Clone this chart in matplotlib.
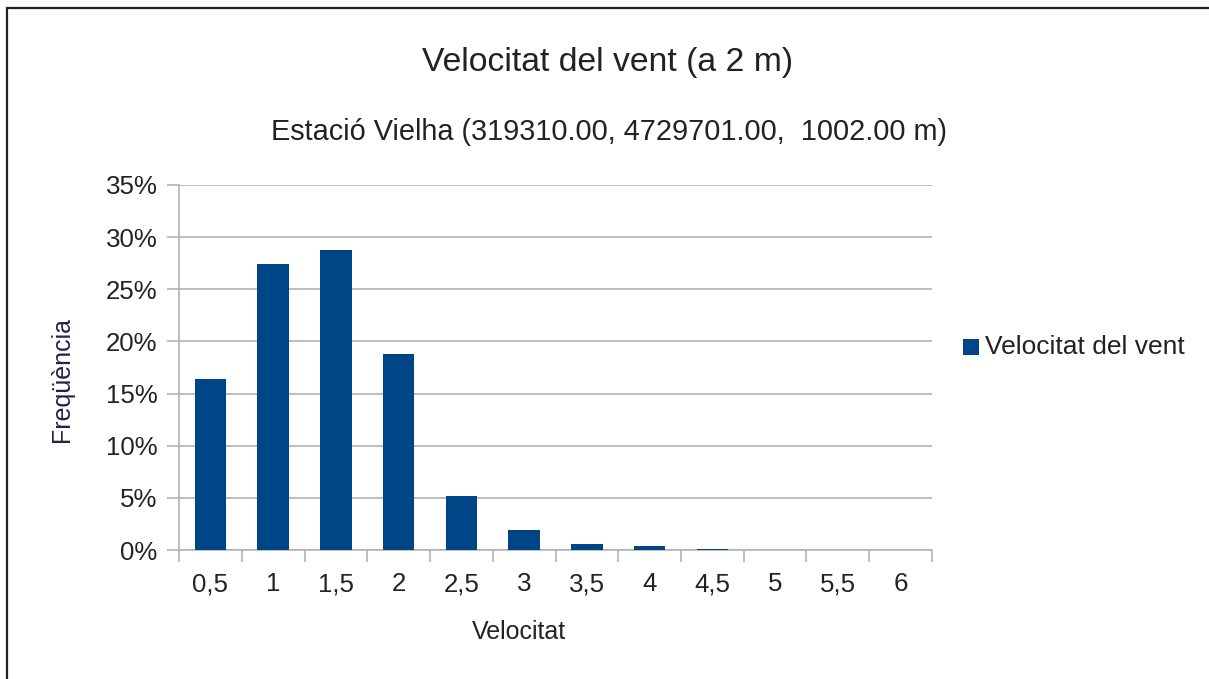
import matplotlib
matplotlib.use("Agg")
import matplotlib.pyplot as plt
from matplotlib.patches import Rectangle
from matplotlib.ticker import FuncFormatter

plt.rcParams['font.family'] = ['Liberation Sans', 'DejaVu Sans']

# data
categories = ['0,5', '1', '1,5', '2', '2,5', '3', '3,5', '4', '4,5', '5', '5,5', '6']
frequency = [16.4, 27.4, 28.8, 18.8, 5.2, 1.9, 0.6, 0.4, 0.12, 0.04, 0.0, 0.0]
y_ticks = [0, 5, 10, 15, 20, 25, 30, 35]

W, H = 1209, 679
fig = plt.figure(figsize=(W / 100, H / 100), dpi=100)
fig.patch.set_facecolor('white')

# outer frame (only left and top visible in the reference)
fig.add_artist(Rectangle((7 / W, -0.2), 1.2, (H - 8) / H + 0.2, transform=fig.transFigure,
                         fill=False, edgecolor='#222222', linewidth=1.6, clip_on=False))

left, right, top, bottom = 179, 932, 185, 550
ax = fig.add_axes([left / W, (H - bottom) / H, (right - left) / W, (bottom - top) / H])

x = list(range(len(categories)))
ax.bar(x, frequency, width=0.5, color='#004586', zorder=3)

ax.set_xlim(-0.5, len(categories) - 0.5)
ax.set_ylim(0, 35)
ax.set_yticks(y_ticks)
ax.yaxis.set_major_formatter(FuncFormatter(lambda v, p: f'{int(v)}%'))
ax.set_xticks(x)
ax.set_xticklabels(categories)
ax.set_xticks([i - 0.5 for i in range(len(categories) + 1)], minor=True)

ax.grid(axis='y', color='#b3b3b3', linewidth=1.2, zorder=0)
for s in ['top', 'right']:
    ax.spines[s].set_visible(False)
for s in ['left', 'bottom']:
    ax.spines[s].set_color('#b3b3b3')
    ax.spines[s].set_linewidth(1.2)

ax.tick_params(axis='x', which='major', length=0, pad=16, labelsize=18.6, labelcolor='#222222')
ax.tick_params(axis='x', which='minor', length=8.6, width=1.2, color='#b3b3b3')
ax.tick_params(axis='y', length=8.6, width=1.2, color='#b3b3b3', pad=7, labelsize=18.6,
               labelcolor='#222222')

fig.text(608 / W, 1 - 63 / H, 'Velocitat del vent (a 2 m)', ha='center', va='center',
         fontsize=24.3, color='#222222')
fig.text(609 / W, 1 - 132 / H, 'Estació Vielha (319310.00, 4729701.00,  1002.00 m)',
         ha='center', va='center', fontsize=20.75, color='#222222')
fig.text(519 / W, 1 - 632 / H, 'Velocitat', ha='center', va='center', fontsize=18,
         color='#222222')
fig.text(62 / W, 1 - 380 / H, 'Freqüència', ha='center', va='center', rotation=90,
         fontsize=18, color='#222244')

# legend
fig.add_artist(Rectangle((963 / W, 1 - 355 / H), 16 / W, 16 / H, transform=fig.transFigure,
                         facecolor='#004586', edgecolor='none'))
fig.text(985 / W, 1 - 347 / H, 'Velocitat del vent', ha='left', va='center', fontsize=19.0,
         color='#222222')

fig.savefig('out.png', dpi=100)
